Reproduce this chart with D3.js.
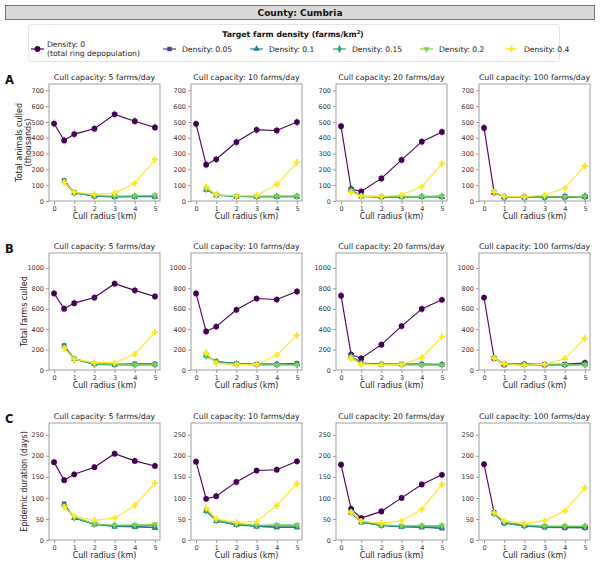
<!DOCTYPE html>
<html><head><meta charset="utf-8">
<script src="https://cdn.jsdelivr.net/npm/d3@7"></script>
<style>body{margin:0;background:#fff}svg{display:block;font-family:"DejaVu Sans",sans-serif}</style>
</head><body><svg id="c" width="600" height="566"></svg>
<script>
const radii = [0, 0.5, 1, 2, 3, 4, 5];
const densities = ["0", "0.05", "0.1", "0.15", "0.2", "0.4"];
const densityLabels = ["Density: 0", "Density: 0.05", "Density: 0.1", "Density: 0.15", "Density: 0.2", "Density: 0.4"];
const capacities = [5, 10, 20, 100];
const colors = ["#440154", "#414487", "#2a788e", "#22a884", "#7ad151", "#fde725"];

// Total animals culled (thousands); rows = densities, columns = radii
const animalsCap5 = [
  [490, 383, 423, 457, 548, 505, 465],
  [null, 130, 55, 30, 27, 28, 28],
  [null, 125, 52, 30, 25, 27, 27],
  [null, 122, 50, 32, 28, 30, 32],
  [null, 118, 55, 35, 32, 33, 35],
  [null, 120, 57, 42, 50, 112, 262]];
const animalsCap10 = [
  [488, 230, 264, 373, 450, 446, 499],
  [null, 75, 38, 30, 28, 28, 28],
  [null, 72, 36, 28, 26, 26, 27],
  [null, 74, 37, 29, 28, 29, 30],
  [null, 78, 40, 32, 30, 31, 32],
  [null, 90, 40, 33, 35, 105, 245]];
const animalsCap20 = [
  [473, 75, 60, 143, 260, 375, 437],
  [null, 72, 30, 25, 27, 27, 27],
  [null, 68, 29, 24, 26, 26, 26],
  [null, 66, 30, 26, 27, 28, 30],
  [null, 65, 32, 28, 29, 30, 31],
  [null, 55, 30, 28, 38, 90, 237]];
const animalsCap100 = [
  [462, 55, 25, 25, 25, 27, 28],
  [null, 56, 25, 23, 25, 25, 28],
  [null, 55, 24, 22, 24, 24, 26],
  [null, 55, 25, 24, 25, 26, 29],
  [null, 56, 26, 25, 26, 27, 30],
  [null, 58, 28, 27, 38, 82, 222]];

// Total farms culled
const farmsCap5 = [
  [750, 600, 655, 710, 845, 780, 720],
  [null, 240, 110, 60, 55, 60, 60],
  [null, 232, 108, 58, 52, 55, 55],
  [null, 225, 105, 55, 50, 50, 50],
  [null, 220, 110, 62, 55, 52, 55],
  [null, 215, 105, 72, 72, 155, 370]];
const farmsCap10 = [
  [750, 378, 425, 590, 700, 690, 770],
  [null, 145, 82, 65, 58, 58, 65],
  [null, 142, 80, 62, 55, 55, 58],
  [null, 140, 78, 60, 52, 52, 52],
  [null, 150, 72, 55, 50, 50, 50],
  [null, 170, 65, 55, 55, 145, 340]];
const farmsCap20 = [
  [728, 150, 115, 248, 430, 598, 688],
  [null, 138, 68, 58, 58, 58, 55],
  [null, 135, 66, 56, 55, 55, 52],
  [null, 132, 64, 55, 53, 52, 50],
  [null, 128, 60, 52, 50, 50, 48],
  [null, 115, 55, 50, 55, 120, 325]];
const farmsCap100 = [
  [710, 115, 55, 55, 52, 55, 70],
  [null, 118, 58, 58, 55, 55, 62],
  [null, 116, 56, 55, 52, 52, 55],
  [null, 115, 55, 53, 50, 50, 52],
  [null, 114, 55, 52, 50, 50, 52],
  [null, 115, 60, 45, 55, 110, 310]];

// Epidemic duration (days)
const durationCap5 = [
  [185, 142, 156, 173, 205, 188, 176],
  [null, 86, 53, 38, 33, 32, 30],
  [null, 84, 52, 37, 32, 31, 29],
  [null, 82, 53, 38, 34, 34, 34],
  [null, 80, 55, 38, 35, 36, 37],
  [null, 78, 57, 47, 52, 82, 135]];
const durationCap10 = [
  [186, 98, 104, 138, 165, 167, 187],
  [null, 70, 46, 37, 33, 31, 31],
  [null, 69, 45, 36, 32, 30, 30],
  [null, 70, 46, 37, 34, 34, 34],
  [null, 74, 48, 39, 35, 36, 36],
  [null, 76, 50, 42, 44, 82, 134]];
const durationCap20 = [
  [179, 74, 52, 68, 100, 132, 155],
  [null, 66, 43, 35, 32, 31, 28],
  [null, 65, 42, 34, 31, 30, 28],
  [null, 66, 43, 35, 33, 33, 33],
  [null, 67, 45, 36, 34, 34, 34],
  [null, 66, 45, 40, 45, 73, 132]];
const durationCap100 = [
  [180, 65, 41, 35, 32, 30, 30],
  [null, 63, 41, 34, 31, 30, 29],
  [null, 63, 40, 33, 30, 29, 29],
  [null, 63, 41, 34, 32, 32, 32],
  [null, 64, 43, 36, 33, 33, 33],
  [null, 65, 46, 39, 46, 69, 124]];

// approximate error-bar half widths per density
const errAnimals = [25, 14, 12, 12, 12, 15];
const errFarms = [35, 20, 18, 18, 18, 22];
const errDuration = [8, 5, 4, 4, 4, 5];

const xTicks = [0, 1, 2, 3, 4, 5];
const rowDefs = [
  {letter: "A", label: ["Total animals culled", "(thousands)"], data: [animalsCap5, animalsCap10, animalsCap20, animalsCap100], err: errAnimals, ymax: 740, ticks: [0,100,200,300,400,500,600,700]},
  {letter: "B", label: ["Total farms culled"], data: [farmsCap5, farmsCap10, farmsCap20, farmsCap100], err: errFarms, ymax: 1146, ticks: [0,200,400,600,800,1000]},
  {letter: "C", label: ["Epidemic duration (days)"], data: [durationCap5, durationCap10, durationCap20, durationCap100], err: errDuration, ymax: 278, ticks: [0,50,100,150,200,250]}
];

const svg = d3.select("#c");
const colLeft = [49, 191, 336, 479];
const rowTop = [84, 253, 423];
const pw = 111, ph = 117;

const symbols = [d3.symbolCircle, d3.symbolSquare, d3.symbolTriangle, d3.symbolDiamond, d3.symbolTriangle, d3.symbolCross];
const symSize = [26, 20, 18, 18, 18, 22];
function marker(g, i) {
  const p = g.append("path").attr("d", d3.symbol(symbols[i], symSize[i])()).attr("fill", colors[i]);
  if (i === 4) p.attr("transform", "rotate(180)");
  return p;
}

// Header bar
svg.append("rect").attr("x", 5.5).attr("y", 5.5).attr("width", 589).attr("height", 14).attr("fill", "#d9d9d9").attr("stroke", "#555").attr("stroke-width", 0.8);
svg.append("text").attr("x", 300).attr("y", 16).attr("text-anchor", "middle").attr("font-size", 9).attr("font-weight", "bold").attr("fill", "#111").text("County: Cumbria");

// Legend
const lg = svg.append("g");
lg.append("rect").attr("x", 28.5).attr("y", 24.5).attr("width", 531).attr("height", 37).attr("fill", "#fff").attr("stroke", "#ddd").attr("stroke-width", 0.8).attr("rx", 2);
const lt = lg.append("text").attr("x", 293).attr("y", 37).attr("text-anchor", "middle").attr("font-size", 7.8).attr("font-weight", "bold").attr("fill", "#111");
lt.append("tspan").text("Target farm density (farms/km");
lt.append("tspan").attr("font-size", 5).attr("dy", -3).text("2");
lt.append("tspan").attr("dy", 3).text(")");
const legX = [31, 163, 250, 333, 420, 505];
densities.forEach((d, i) => {
  const g = lg.append("g").attr("transform", `translate(${legX[i]},49)`);
  g.append("line").attr("x1", 0).attr("x2", 13).attr("stroke", colors[i]).attr("stroke-width", 1.2);
  marker(g.append("g").attr("transform", "translate(6.5,0)"), i);
  if (i === 0) {
    g.append("text").attr("x", 16).attr("y", -2).attr("font-size", 7.6).attr("fill", "#222").text("Density: 0");
    g.append("text").attr("x", 16).attr("y", 7).attr("font-size", 7.6).attr("fill", "#222").text("(total ring depopulation)");
  } else {
    g.append("text").attr("x", 19).attr("y", 2.7).attr("font-size", 7.6).attr("fill", "#222").text(densityLabels[i]);
  }
});

rowDefs.forEach((row, r) => {
  const top = rowTop[r];
  svg.append("text").attr("x", 5).attr("y", top).attr("font-size", 11.5).attr("font-weight", "bold").attr("fill", "#111").text(row.letter);
  const nl = row.label.length;
  row.label.forEach((t, k) => {
    const x = nl === 2 ? 22 + k * 9 : 27;
    svg.append("text").attr("transform", `translate(${x},${top + ph / 2}) rotate(-90)`).attr("text-anchor", "middle").attr("font-size", 8).attr("fill", "#222").text(t);
  });
  capacities.forEach((cap, c) => {
    const left = colLeft[c];
    const x = d3.scaleLinear().domain([-0.25, 5.25]).range([left, left + pw]);
    const y = d3.scaleLinear().domain([0, row.ymax]).range([top + ph, top]);
    const g = svg.append("g");
    g.append("text").attr("x", left + pw / 2).attr("y", top - 4).attr("text-anchor", "middle").attr("font-size", 7.8).attr("fill", "#222").text(`Cull capacity: ${cap} farms/day`);
    const xa = g.append("g").attr("transform", `translate(0,${top + ph})`).call(d3.axisBottom(x).tickValues(xTicks).tickSize(3).tickPadding(2).tickFormat(d3.format("d")));
    const ya = g.append("g").attr("transform", `translate(${left},0)`).call(d3.axisLeft(y).tickValues(row.ticks).tickSize(3).tickPadding(2).tickFormat(d3.format("d")));
    [xa, ya].forEach(a => {
      a.select(".domain").remove();
      a.selectAll("line").attr("stroke", "#555").attr("stroke-width", 0.6);
      a.selectAll("text").attr("font-size", 6.5).attr("fill", "#333").attr("font-family", "DejaVu Sans");
    });
    g.append("rect").attr("x", left).attr("y", top).attr("width", pw).attr("height", ph).attr("fill", "none").attr("stroke", "#888").attr("stroke-width", 0.8);
    g.append("text").attr("x", left + pw / 2).attr("y", top + ph + 18).attr("text-anchor", "middle").attr("font-size", 8).attr("fill", "#222").text("Cull radius (km)");
    const series = row.data[c];
    series.forEach((vals, i) => {
      const pts = radii.map((rr, k) => ({x: rr, v: vals[k]})).filter(p => p.v != null);
      const sg = g.append("g");
      sg.selectAll("line.err").data(pts).join("line").attr("x1", p => x(p.x)).attr("x2", p => x(p.x))
        .attr("y1", p => y(p.v - row.err[i])).attr("y2", p => y(p.v + row.err[i]))
        .attr("stroke", colors[i]).attr("stroke-opacity", 0.35).attr("stroke-width", 1.6);
      sg.append("path").datum(pts).attr("d", d3.line().x(p => x(p.x)).y(p => y(p.v))).attr("fill", "none").attr("stroke", colors[i]).attr("stroke-width", 1.1);
      pts.forEach(p => marker(sg.append("g").attr("transform", `translate(${x(p.x)},${y(p.v)})`), i));
    });
  });
});
</script></body></html>
